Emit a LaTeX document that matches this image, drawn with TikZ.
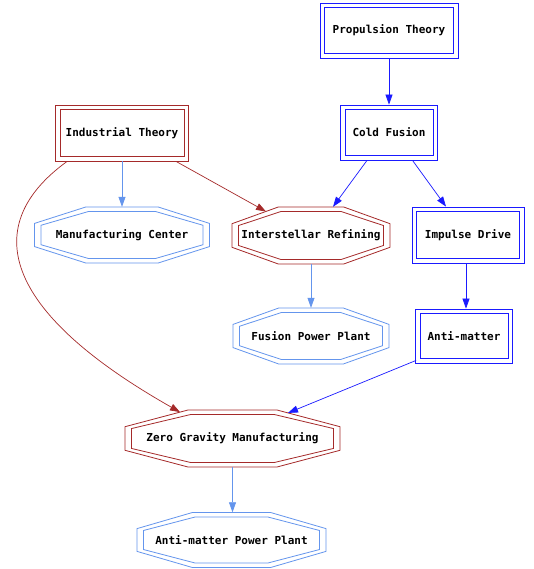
\documentclass[tikz,border=0pt]{standalone}
\usepackage{fontspec}
\newfontfamily\lblfont{DejaVu Sans Mono}
\usetikzlibrary{arrows.meta,calc}
\definecolor{bblue}{HTML}{1A1AFF}
\definecolor{brn}{HTML}{A52A2A}
\definecolor{cblue}{HTML}{6495ED}
\tikzset{
  lbl/.style={font=\lblfont\bfseries\fontsize{11}{12}\selectfont, text=black, inner sep=0pt},
  boxb/.style={lbl, draw=bblue, line width=0.8pt},
  boxr/.style={lbl, draw=brn, line width=0.8pt},
  octn/.style={lbl},
  arr/.style={-{Triangle[length=10pt,width=7pt]}, line width=0.7pt},
}
\newcommand\inbox[2]{\draw[#2, line width=0.8pt] ($(#1.north west)+(5,5)$) rectangle ($(#1.south east)+(-5,-5)$);}
\newcommand\octline[4]{%
  \draw[#4, line width=0.8pt]
    ($(#1)+({-0.414*(#2)},{-(#3)})$) -- ($(#1)+({0.414*(#2)},{-(#3)})$) --
    ($(#1)+({#2},{-0.414*(#3)})$) -- ($(#1)+({#2},{0.414*(#3)})$) --
    ($(#1)+({0.414*(#2)},{#3})$) -- ($(#1)+({-0.414*(#2)},{#3})$) --
    ($(#1)+({-(#2)},{0.414*(#3)})$) -- ($(#1)+({-(#2)},{-0.414*(#3)})$) -- cycle;}
\newcommand\dblocta[4]{\octline{#1}{#2}{#3}{#4}\octline{#1}{#2-6.5}{#3-4.5}{#4}}
\begin{document}
\begin{tikzpicture}[x=1pt,y=-1pt]
\useasboundingbox (0,0) rectangle (534,569);
\fill[white] (0,0) rectangle (534,569);
% boxes
\node[boxb, minimum width=138pt, minimum height=55pt] (ptheory) at (389,30.5) {Propulsion Theory};
\inbox{ptheory}{bblue}
\node[boxr, minimum width=133pt, minimum height=56pt] (itheory) at (122,133) {Industrial Theory};
\inbox{itheory}{brn}
\node[boxb, minimum width=97pt, minimum height=55pt] (cfusion) at (389,132.5) {Cold Fusion};
\inbox{cfusion}{bblue}
\node[boxb, minimum width=112pt, minimum height=56pt] (idrive) at (468,235) {Impulse Drive};
\inbox{idrive}{bblue}
\node[boxb, minimum width=97pt, minimum height=54pt] (amatter) at (464,336) {Anti-matter};
\inbox{amatter}{bblue}
% octagons
\node[octn, minimum width=175pt, minimum height=56pt] (mcenter) at (122,235) {Manufacturing Center};
\dblocta{mcenter}{87.5}{28}{cblue}
\node[octn, minimum width=158pt, minimum height=57pt] (irefine) at (311,235.5) {Interstellar Refining};
\dblocta{irefine}{79}{28.5}{brn}
\node[octn, minimum width=156pt, minimum height=56pt] (fplant) at (311,336) {Fusion Power Plant};
\dblocta{fplant}{78}{28}{cblue}
\node[octn, minimum width=215pt, minimum height=57pt] (zgrav) at (232.5,438.5) {Zero Gravity Manufacturing};
\dblocta{zgrav}{107.5}{28.5}{brn}
\node[octn, minimum width=189pt, minimum height=55pt] (amplant) at (231.5,540) {Anti-matter Power Plant};
\dblocta{amplant}{94.5}{27.5}{cblue}
% edges
\draw[arr, bblue] (ptheory.south) -- (ptheory.south |- cfusion.north);
\draw[arr, cblue] (itheory.south) -- (itheory.south |- mcenter.north);
\draw[arr, brn] ($(itheory.south)+(54,0)$) -- ($(irefine.center)+(-45,-24)$);
\draw[arr, brn] ($(itheory.south west)+(12,0)$) .. controls +(-87,63) and +(-180,-102) .. ($(zgrav.center)+(-52.5,-26.4)$);
\draw[arr, bblue] ($(cfusion.south)+(-22,0)$) -- ($(irefine.north)+(22,0)$);
\draw[arr, bblue] ($(cfusion.south)+(23.5,0)$) -- ($(idrive.north)+(-22,0)$);
\draw[arr, cblue] (irefine.south) -- (irefine.south |- fplant.north);
\draw[arr, bblue] ($(idrive.south)+(-2,0)$) -- ($(idrive.south |- amatter.north)+(-2,0)$);
\draw[arr, bblue] ($(amatter.south west)+(1,-3)$) -- ($(zgrav.center)+(55.5,-25.6)$);
\draw[arr, cblue] (zgrav.south) -- (zgrav.south |- amplant.north);
\end{tikzpicture}
\end{document}
